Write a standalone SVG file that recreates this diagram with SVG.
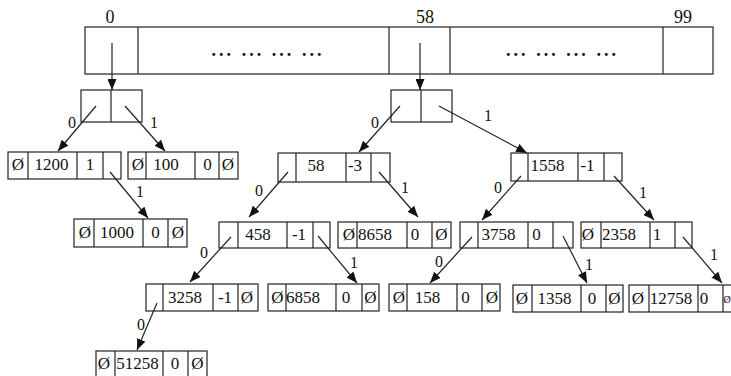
<svg xmlns="http://www.w3.org/2000/svg" width="731" height="376" viewBox="0 0 731 376">
<style>
.b{fill:#fff;stroke:#222;stroke-width:1.2}
.d{stroke:#222;stroke-width:1.2}
text{font-family:'Liberation Serif','Times New Roman','DejaVu Serif',serif;fill:#111;text-anchor:middle}
.t{font-size:17px}
.h{font-size:18px}
.l{font-size:16px}
.a{stroke:#222;stroke-width:1.2;fill:none;marker-end:url(#ah)}
</style>
<defs>
<marker id="ah" markerUnits="userSpaceOnUse" markerWidth="11" markerHeight="9" refX="11" refY="4.5" orient="auto">
<path d="M0,0 L11,4.5 L0,9 z" fill="#111"/>
</marker>
</defs>
<rect width="731" height="376" fill="#fff"/>

<g id="array">
<rect class="b" x="85" y="27" width="628" height="47"/>
<line class="d" x1="138" y1="27" x2="138" y2="74"/>
<line class="d" x1="389" y1="27" x2="389" y2="74"/>
<line class="d" x1="450" y1="27" x2="450" y2="74"/>
<line class="d" x1="663" y1="27" x2="663" y2="74"/>
<text class="h" x="110" y="23">0</text>
<text class="h" x="425" y="23">58</text>
<text class="h" x="683" y="23">99</text>
<text class="h" x="266.5" y="56" textLength="110" lengthAdjust="spacing" font-weight="bold">... ... ... ...</text>
<text class="h" x="561" y="56" textLength="110" lengthAdjust="spacing" font-weight="bold">... ... ... ...</text>
</g>

<g id="root0">
<rect class="b" x="81" y="90" width="61" height="32"/>
<line class="d" x1="111" y1="90" x2="111" y2="122"/>
</g>
<g id="root58">
<rect class="b" x="391" y="90" width="61" height="32"/>
<line class="d" x1="421" y1="90" x2="421" y2="122"/>
</g>

<g id="n1200">
<rect class="b" x="8" y="152" width="113" height="27"/>
<line class="d" x1="28" y1="152" x2="28" y2="179"/>
<line class="d" x1="77" y1="152" x2="77" y2="179"/>
<line class="d" x1="103" y1="152" x2="103" y2="179"/>
<text class="t" x="18" y="170">Ø</text>
<text class="t" x="51.5" y="170">1200</text>
<text class="t" x="90" y="170">1</text>
</g>
<g id="n100">
<rect class="b" x="128" y="152" width="110" height="27"/>
<line class="d" x1="146" y1="152" x2="146" y2="179"/>
<line class="d" x1="195" y1="152" x2="195" y2="179"/>
<line class="d" x1="219" y1="152" x2="219" y2="179"/>
<text class="t" x="138" y="170">Ø</text>
<text class="t" x="166" y="170">100</text>
<text class="t" x="207.5" y="170">0</text>
<text class="t" x="228" y="170">Ø</text>
</g>
<g id="n1000">
<rect class="b" x="74" y="219" width="113" height="28"/>
<line class="d" x1="94" y1="219" x2="94" y2="247"/>
<line class="d" x1="143" y1="219" x2="143" y2="247"/>
<line class="d" x1="168" y1="219" x2="168" y2="247"/>
<text class="t" x="85" y="238">Ø</text>
<text class="t" x="117" y="238">1000</text>
<text class="t" x="155.5" y="238">0</text>
<text class="t" x="178" y="238">Ø</text>
</g>

<g id="n58">
<rect class="b" x="278" y="153" width="112" height="29"/>
<line class="d" x1="296" y1="153" x2="296" y2="182"/>
<line class="d" x1="346" y1="153" x2="346" y2="182"/>
<line class="d" x1="371" y1="153" x2="371" y2="182"/>
<text class="t" x="316" y="171">58</text>
<text class="t" x="355" y="171">-3</text>
</g>
<g id="n1558">
<rect class="b" x="511" y="153" width="111" height="28"/>
<line class="d" x1="528" y1="153" x2="528" y2="181"/>
<line class="d" x1="578" y1="153" x2="578" y2="181"/>
<line class="d" x1="604" y1="153" x2="604" y2="181"/>
<text class="t" x="547.5" y="171">1558</text>
<text class="t" x="587.5" y="171">-1</text>
</g>

<g id="n458">
<rect class="b" x="219" y="222" width="111" height="26"/>
<line class="d" x1="238" y1="222" x2="238" y2="248"/>
<line class="d" x1="287" y1="222" x2="287" y2="248"/>
<line class="d" x1="313" y1="222" x2="313" y2="248"/>
<text class="t" x="258" y="240">458</text>
<text class="t" x="299" y="240">-1</text>
</g>
<g id="n8658">
<rect class="b" x="338" y="222" width="113" height="26"/>
<line class="d" x1="357" y1="222" x2="357" y2="248"/>
<line class="d" x1="407" y1="222" x2="407" y2="248"/>
<line class="d" x1="432" y1="222" x2="432" y2="248"/>
<text class="t" x="349" y="240">Ø</text>
<text class="t" x="375" y="240">8658</text>
<text class="t" x="415" y="240">0</text>
<text class="t" x="441.5" y="240">Ø</text>
</g>
<g id="n3758">
<rect class="b" x="460" y="222" width="113" height="26"/>
<line class="d" x1="478" y1="222" x2="478" y2="248"/>
<line class="d" x1="528" y1="222" x2="528" y2="248"/>
<line class="d" x1="553" y1="222" x2="553" y2="248"/>
<text class="t" x="498.5" y="240">3758</text>
<text class="t" x="536.5" y="240">0</text>
</g>
<g id="n2358">
<rect class="b" x="581" y="222" width="111" height="26"/>
<line class="d" x1="601" y1="222" x2="601" y2="248"/>
<line class="d" x1="650" y1="222" x2="650" y2="248"/>
<line class="d" x1="675" y1="222" x2="675" y2="248"/>
<text class="t" x="588" y="240">Ø</text>
<text class="t" x="619" y="240">2358</text>
<text class="t" x="657" y="240">1</text>
</g>

<g id="n3258">
<rect class="b" x="146" y="284" width="112" height="27"/>
<line class="d" x1="163" y1="284" x2="163" y2="311"/>
<line class="d" x1="213" y1="284" x2="213" y2="311"/>
<line class="d" x1="238" y1="284" x2="238" y2="311"/>
<text class="t" x="185" y="303">3258</text>
<text class="t" x="225" y="303">-1</text>
<text class="t" x="247" y="303">Ø</text>
</g>
<g id="n6858">
<rect class="b" x="268" y="284" width="111" height="27"/>
<line class="d" x1="286" y1="284" x2="286" y2="311"/>
<line class="d" x1="336" y1="284" x2="336" y2="311"/>
<line class="d" x1="362" y1="284" x2="362" y2="311"/>
<text class="t" x="277.5" y="303">Ø</text>
<text class="t" x="303" y="303">6858</text>
<text class="t" x="346" y="303">0</text>
<text class="t" x="370.5" y="303">Ø</text>
</g>
<g id="n158">
<rect class="b" x="389" y="284" width="111" height="27"/>
<line class="d" x1="407" y1="284" x2="407" y2="311"/>
<line class="d" x1="457" y1="284" x2="457" y2="311"/>
<line class="d" x1="482" y1="284" x2="482" y2="311"/>
<text class="t" x="399" y="303">Ø</text>
<text class="t" x="427.5" y="303">158</text>
<text class="t" x="465.5" y="303">0</text>
<text class="t" x="492" y="303">Ø</text>
</g>
<g id="n1358">
<rect class="b" x="513" y="285" width="110" height="27"/>
<line class="d" x1="532" y1="285" x2="532" y2="312"/>
<line class="d" x1="581" y1="285" x2="581" y2="312"/>
<line class="d" x1="606" y1="285" x2="606" y2="312"/>
<text class="t" x="522" y="304">Ø</text>
<text class="t" x="554.5" y="304">1358</text>
<text class="t" x="592" y="304">0</text>
<text class="t" x="614.5" y="304">Ø</text>
</g>
<g id="n12758">
<rect class="b" x="629" y="285" width="116" height="27"/>
<line class="d" x1="649" y1="285" x2="649" y2="312"/>
<line class="d" x1="698" y1="285" x2="698" y2="312"/>
<line class="d" x1="723" y1="285" x2="723" y2="312"/>
<text class="t" x="638" y="304">Ø</text>
<text class="t" x="671" y="304">12758</text>
<text class="t" x="704" y="304">0</text>
<text x="727" y="303" font-size="10">Ø</text>
</g>
<g id="n51258">
<rect class="b" x="96" y="351" width="111" height="27"/>
<line class="d" x1="115" y1="351" x2="115" y2="378"/>
<line class="d" x1="163" y1="351" x2="163" y2="378"/>
<line class="d" x1="188" y1="351" x2="188" y2="378"/>
<text class="t" x="104" y="369">Ø</text>
<text class="t" x="137.5" y="369">51258</text>
<text class="t" x="175" y="369">0</text>
<text class="t" x="197.5" y="369">Ø</text>
</g>

<g id="connectors">
<line class="a" x1="112" y1="43" x2="112" y2="90"/>
<line class="a" x1="420" y1="43" x2="420" y2="90"/>
<line class="a" x1="96" y1="106" x2="58" y2="151"/>
<text class="l" x="72" y="128">0</text>
<line class="a" x1="125" y1="106" x2="165" y2="151"/>
<text class="l" x="154" y="128">1</text>
<line class="a" x1="110" y1="172" x2="148" y2="218"/>
<text class="l" x="140" y="197">1</text>
<line class="a" x1="400" y1="106" x2="359" y2="152"/>
<text class="l" x="375" y="128">0</text>
<line class="a" x1="439" y1="106" x2="527" y2="153"/>
<text class="l" x="488" y="121">1</text>
<line class="a" x1="288" y1="172" x2="249" y2="217"/>
<text class="l" x="259" y="196">0</text>
<line class="a" x1="379" y1="172" x2="418" y2="217"/>
<text class="l" x="405" y="193">1</text>
<line class="a" x1="521" y1="176" x2="482" y2="220"/>
<text class="l" x="498" y="193">0</text>
<line class="a" x1="614" y1="176" x2="654" y2="220"/>
<text class="l" x="643" y="198">1</text>
<line class="a" x1="231" y1="237" x2="190" y2="282"/>
<text class="l" x="204" y="258">0</text>
<line class="a" x1="318" y1="236" x2="357" y2="283"/>
<text class="l" x="354" y="268">1</text>
<line class="a" x1="472" y1="237" x2="430" y2="283"/>
<text class="l" x="439" y="267">0</text>
<line class="a" x1="563" y1="236" x2="587" y2="283"/>
<text class="l" x="589" y="270">1</text>
<line class="a" x1="683" y1="237" x2="722" y2="283"/>
<text class="l" x="714" y="260">1</text>
<line class="a" x1="157" y1="303" x2="137" y2="350"/>
<text class="l" x="141" y="330">0</text>
</g>
</svg>
